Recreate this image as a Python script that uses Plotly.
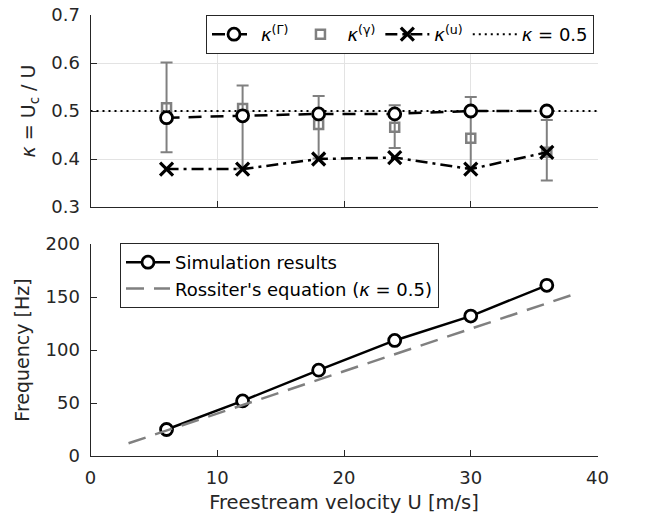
import plotly.graph_objects as go

# ---- data ----
U = [6, 12, 18, 24, 30, 36]
kappa_Gamma = [0.486, 0.490, 0.494, 0.494, 0.500, 0.500]
kappa_gamma = [0.507, 0.505, 0.472, 0.466, 0.443, 0.414]
kappa_gamma_hi = [0.601, 0.553, 0.531, 0.512, 0.529, 0.481]
kappa_gamma_lo = [0.414, 0.380, 0.401, 0.423, 0.381, 0.355]
kappa_u = [0.379, 0.379, 0.400, 0.403, 0.379, 0.414]
kappa_ref_U = [0, 40]
kappa_ref = [0.5, 0.5]
freq_sim = [25, 52, 81, 109, 132, 161]
rossiter_U = [3, 38]
rossiter_f = [12, 152]
x_ticks = [0, 10, 20, 30, 40]
kappa_ticks = [0.3, 0.4, 0.5, 0.6, 0.7]
freq_ticks = [0, 50, 100, 150, 200]

W, H = 656, 519
FONT = "DejaVu Sans"
TXT = "#262626"
GRAY = "#808080"

err_plus = [h - v for h, v in zip(kappa_gamma_hi, kappa_gamma)]
err_minus = [v - l for v, l in zip(kappa_gamma, kappa_gamma_lo)]

fig = go.Figure()

# top panel
fig.add_trace(go.Scatter(
    x=kappa_ref_U, y=kappa_ref, mode="lines", name="<i>κ</i> = 0.5",
    line=dict(color="black", width=2, dash="2px,4px"),
    xaxis="x", yaxis="y", legend="legend", legendrank=4))
fig.add_trace(go.Scatter(
    x=U, y=kappa_gamma, mode="markers", name="<i>κ</i><sup>(γ)</sup>",
    marker=dict(symbol="square-open", size=9, color=GRAY, line=dict(color=GRAY, width=2.5)),
    error_y=dict(type="data", array=err_plus, arrayminus=err_minus,
                 color=GRAY, thickness=2, width=6),
    xaxis="x", yaxis="y", legend="legend", legendrank=2))
fig.add_trace(go.Scatter(
    x=U, y=kappa_Gamma, mode="lines+markers", name="<i>κ</i><sup>(Γ)</sup>",
    line=dict(color="black", width=2.5, dash="13px,9px"),
    marker=dict(symbol="circle", size=12, color="white", line=dict(color="black", width=2.8)),
    xaxis="x", yaxis="y", legend="legend", legendrank=1))
fig.add_trace(go.Scatter(
    x=U, y=kappa_u, mode="lines+markers", name="<i>κ</i><sup>(u)</sup>",
    line=dict(color="black", width=2.5, dash="12px,5px,3px,5px"),
    marker=dict(symbol="x-thin-open", size=13, color="black", line=dict(color="black", width=3.2)),
    xaxis="x", yaxis="y", legend="legend", legendrank=3))

# bottom panel
fig.add_trace(go.Scatter(
    x=U, y=freq_sim, mode="lines+markers", name="Simulation results",
    line=dict(color="black", width=2.5),
    marker=dict(symbol="circle", size=12, color="white", line=dict(color="black", width=2.8)),
    xaxis="x2", yaxis="y2", legend="legend2"))
fig.add_trace(go.Scatter(
    x=rossiter_U, y=rossiter_f, mode="lines", name="Rossiter's equation (<i>κ</i> = 0.5)",
    line=dict(color=GRAY, width=2.5, dash="18px,10px"),
    xaxis="x2", yaxis="y2", legend="legend2"))

x_dom = [90.5 / W, 597.5 / W]
top_dom = [1 - 207 / H, 1 - 15 / H]
bot_dom = [1 - 456 / H, 1 - 244 / H]

axis_common = dict(showline=True, linecolor=TXT, linewidth=1, mirror=False,
                   ticks="inside", ticklen=6, tickcolor=TXT, zeroline=False,
                   tickfont=dict(family=FONT, size=18, color=TXT), automargin=False)

fig.update_layout(
    width=W, height=H, margin=dict(l=0, r=0, t=0, b=0),
    paper_bgcolor="white", plot_bgcolor="white",
    font=dict(family=FONT, color=TXT),
    xaxis=dict(domain=x_dom, range=[0, 40], anchor="y", tickvals=x_ticks,
               showticklabels=False, showgrid=True, gridcolor="#e3e3e3", **axis_common),
    yaxis=dict(domain=top_dom, range=[0.3, 0.7], anchor="x", tickvals=kappa_ticks,
               tickformat=".1f", showgrid=True, gridcolor="#e3e3e3",
               title=dict(text="<i>κ</i> = U<sub>c</sub> / U", standoff=10,
                          font=dict(family=FONT, size=19, color=TXT)),
               ticklabelstandoff=6, **axis_common),
    xaxis2=dict(domain=x_dom, range=[0, 40], anchor="y2", tickvals=x_ticks,
                showgrid=False,
                title=dict(text="Freestream velocity U [m/s]", standoff=8,
                           font=dict(family=FONT, size=19.5, color=TXT)),
                ticklabelstandoff=5, **axis_common),
    yaxis2=dict(domain=bot_dom, range=[0, 200], anchor="x2", tickvals=freq_ticks,
                showgrid=False,
                title=dict(text="Frequency [Hz]", standoff=10,
                           font=dict(family=FONT, size=19, color=TXT)),
                ticklabelstandoff=6, **axis_common),
    legend=dict(x=594 / W, xanchor="right", y=1 - 15 / H, yanchor="top",
                orientation="h", bgcolor="white", bordercolor=TXT, borderwidth=1,
                font=dict(family=FONT, size=18, color="black"), itemwidth=44,
                traceorder="normal"),
    legend2=dict(x=120 / W, xanchor="left", y=1 - 243 / H, yanchor="top",
                 orientation="v", bgcolor="white", bordercolor=TXT, borderwidth=1,
                 font=dict(family=FONT, size=18, color="black"), itemwidth=44),
    showlegend=True,
)

fig.write_html("out.html")
